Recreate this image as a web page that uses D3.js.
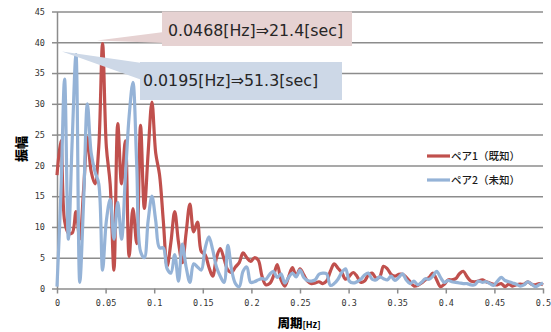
<!DOCTYPE html>
<html>
<head>
<meta charset="utf-8">
<script src="https://cdn.jsdelivr.net/npm/d3@7/dist/d3.min.js"></script>
<style>
  html, body { margin: 0; padding: 0; background: #fff; }
  svg { display: block; }
</style>
</head>
<body>
<div id="chart"></div>
<script>
// ---- data ----
const freqStep = 1 / 256; // frequency bin width [Hz]
const seriesNames = ["ペア1（既知）", "ペア2（未知）"];
const pair1 = [
  18.4, 24, 11, 9, 9, 12.5, 8, 16, 24.5, 19, 17, 23, 39.8, 23, 17, 3, 26.8, 17, 24, 5.2,
  13, 7.3, 26.5, 13, 22, 30.3, 22, 18.5, 11, 3.6, 7.5, 12.5, 7.5, 4.2, 9, 13.7, 9.2, 10.8, 6, 5.5,
  3.5, 2.0, 5.0, 6.5, 4.8, 3.0, 2.6, 3.5, 4.2, 5.8, 5.0, 4.4, 5.0, 4.6, 2.0, 0.6, 0.8, 2.0, 3.9, 1.4,
  0.4, 1.9, 3.4, 2.0, 3.2, 2.2, 1.2, 0.8, 0.9, 1.1, 0.8, 1.2, 2.8, 4.0, 3.3, 2.6, 1.5, 2.0, 2.6, 2.0,
  1.0, 1.2, 2.2, 2.5, 1.7, 1.9, 3.6, 3.2, 2.3, 2.0, 2.3, 2.3, 1.8, 1.1, 0.4, 0.5, 0.9, 1.4, 1.8, 2.5,
  1.4, 0.3, 0.7, 1.4, 1.4, 1.6, 2.4, 2.8, 1.9, 1.2, 1.1, 1.2, 1.4, 1.1, 0.9, 0.7, 0.6, 0.8, 0.3, 0.7,
  0.4, 0.6, 0.7, 0.7, 1.1, 0.7, 0.6, 0.8, 0.6
];
const pair2 = [
  0.3, 15, 34, 8, 24, 38, 1, 14, 30, 22, 19, 17, 3, 11, 14.5, 8, 14, 8, 18, 28,
  33.5, 20, 6, 5, 11, 15, 11, 6.6, 6.6, 3.2, 2.5, 5.5, 1.2, 7.2, 3.5, 1.0, 4.0, 3.5, 3.0, 6.5,
  8.4, 6.3, 3.5, 2.0, 1.0, 7.0, 3.0, 0.8, 0.3, 2.8, 3.5, 1.0, 1.1, 1.4, 1.6, 1.5, 2.3, 2.8, 1.8, 2.4,
  0.9, 1.8, 2.5, 1.9, 3.0, 1.8, 1.3, 1.2, 1.4, 2.3, 2.5, 2.4, 0.5, 0.8, 1.5, 2.6, 3.2, 1.2, 0.9, 1.1,
  1.5, 2.2, 2.5, 1.5, 1.4, 1.9, 1.6, 1.4, 2.0, 1.3, 1.8, 2.4, 1.4, 0.8, 1.2, 0.6, 1.0, 1.6, 1.5, 2.0,
  2.8, 1.8, 1.0, 1.3, 1.1, 1.0, 0.9, 0.8, 0.8, 0.6, 0.6, 1.2, 1.0, 1.1, 0.8, 0.5, 1.2, 1.8, 1.3, 1.1,
  0.9, 0.7, 0.4, 0.6, 1.1, 0.7, 0.3, 0.6, 0.9
];
const yTickValues = [0, 5, 10, 15, 20, 25, 30, 35, 40, 45];
const yTickLabels = ["0", "5", "10", "15", "20", "25", "30", "35", "40", "45"];
const xTickValues = [0, 0.05, 0.1, 0.15, 0.2, 0.25, 0.3, 0.35, 0.4, 0.45, 0.5];
const xTickLabels = ["0", "0.05", "0.1", "0.15", "0.2", "0.25", "0.3", "0.35", "0.4", "0.45", "0.5"];
const annotations = [
  { series: 0, freq: 0.046875, text: "0.0468[Hz]⇒21.4[sec]" },
  { series: 1, freq: 0.01953125, text: "0.0195[Hz]⇒51.3[sec]" }
];
const yTitle = "振幅";
const xTitleMain = "周期";
const xTitleUnit = "[Hz]";

// ---- layout ----
const W = 551, H = 332;
const colors = ["#c0504d", "#95b3d7"];
const svg = d3.select("#chart").append("svg").attr("width", W).attr("height", H);

const x = d3.scaleLinear().domain([0, 0.5]).range([57, 543]);
const y = d3.scaleLinear().domain([0, 45]).range([288.5, 11.5]);

const gridColor = "#8c8c8c";
const labelFont = "'DejaVu Sans Mono', monospace";

// gridlines
const grid = svg.append("g").attr("transform", `translate(${x(0)},0)`)
  .call(d3.axisLeft(y).tickValues(yTickValues.slice(1)).tickSize(-(x(0.5) - x(0))).tickFormat(""));
grid.select(".domain").remove();
grid.selectAll("line").attr("stroke", gridColor).attr("stroke-width", 1.5);

// y axis
const yAxis = svg.append("g").attr("transform", `translate(${x(0)},0)`)
  .call(d3.axisLeft(y).tickValues(yTickValues).tickSize(5).tickSizeOuter(0).tickPadding(7)
    .tickFormat((d, i) => yTickLabels[i]));
yAxis.select(".domain").attr("stroke", gridColor).attr("stroke-width", 1.5);
yAxis.selectAll("line").attr("stroke", gridColor).attr("stroke-width", 1.5);
yAxis.selectAll("text").attr("font-family", labelFont).attr("font-size", 8.5).attr("fill", "#333");

// x axis
const xAxis = svg.append("g").attr("transform", `translate(0,${y(0)})`)
  .call(d3.axisBottom(x).tickValues(xTickValues).tickSize(5).tickSizeOuter(0).tickPadding(6)
    .tickFormat((d, i) => xTickLabels[i]));
xAxis.select(".domain").attr("stroke", gridColor).attr("stroke-width", 1.5);
xAxis.selectAll("line").attr("stroke", gridColor).attr("stroke-width", 1.5);
xAxis.selectAll("text").attr("font-family", labelFont).attr("font-size", 8.5).attr("fill", "#333");

// lines
const line = d3.line()
  .x((d, i) => x(i * freqStep))
  .y(d => y(d))
  .curve(d3.curveCatmullRom.alpha(0.5));
[pair1, pair2].forEach((s, k) => {
  svg.append("path").datum(s)
    .attr("fill", "none")
    .attr("stroke", colors[k])
    .attr("stroke-width", 3.2)
    .attr("stroke-linejoin", "round")
    .attr("d", line);
});

// annotations (callouts)
const boxFill = ["#e6d2d2", "#cdd8e7"];
const boxes = [
  { x0: 162, y0: 11.5, x1: 352, y1: 46, ty: 35.5, tx: 168, baseTop: 32, baseBot: 43 },
  { x0: 140, y0: 62, x1: 342, y1: 100, ty: 86, tx: 143, baseTop: 63, baseBot: 80 }
];
const tips = [
  { dx: -5.5, dy: -3 },
  { dx: -14, dy: -3 }
];
annotations.forEach((a, k) => {
  const b = boxes[k];
  const s = a.series === 0 ? pair1 : pair2;
  const idx = Math.round(a.freq / freqStep);
  const px = x(idx * freqStep) + tips[k].dx;
  const py = y(s[idx]) + tips[k].dy;
  svg.append("path")
    .attr("d", `M${px},${py} L${b.x0 + 2},${b.baseTop} L${b.x0 + 2},${b.baseBot} Z`)
    .attr("fill", boxFill[k]);
  svg.append("rect")
    .attr("x", b.x0).attr("y", b.y0)
    .attr("width", b.x1 - b.x0).attr("height", b.y1 - b.y0)
    .attr("fill", boxFill[k]);
  svg.append("text")
    .attr("x", b.tx).attr("y", b.ty)
    .attr("font-family", "'DejaVu Sans', Verdana, sans-serif")
    .attr("font-size", 15.8)
    .attr("fill", "#262626")
    .text(a.text);
});

// legend
const legend = svg.append("g");
seriesNames.forEach((n, k) => {
  const ly = 156 + k * 24;
  legend.append("line")
    .attr("x1", 427).attr("x2", 450).attr("y1", ly).attr("y2", ly)
    .attr("stroke", colors[k]).attr("stroke-width", 3.2);
  legend.append("text")
    .attr("x", 451).attr("y", ly + 4)
    .attr("font-family", "'Noto Sans CJK JP', sans-serif")
    .attr("font-size", 10.5)
    .attr("font-weight", 500)
    .attr("fill", "#1a1a1a")
    .text(n);
});

// axis titles
svg.append("text")
  .attr("transform", "translate(26,149) rotate(-90)")
  .attr("text-anchor", "middle")
  .attr("font-family", "'Noto Sans CJK JP', sans-serif")
  .attr("font-size", 13)
  .attr("font-weight", 900)
  .attr("fill", "#000")
  .text(yTitle);

const xt = svg.append("text")
  .attr("x", 299).attr("y", 328)
  .attr("text-anchor", "middle")
  .attr("font-family", "'Noto Sans CJK JP', sans-serif")
  .attr("fill", "#000");
xt.append("tspan").attr("font-size", 12.5).attr("font-weight", 900).text(xTitleMain);
xt.append("tspan").attr("font-size", 9).attr("font-weight", 700).text(xTitleUnit);
</script>
</body>
</html>
